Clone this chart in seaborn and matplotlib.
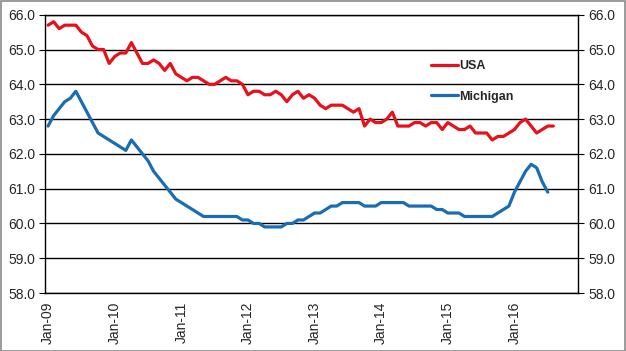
import numpy as np
import pandas as pd
import matplotlib
matplotlib.use('Agg')
import matplotlib.pyplot as plt
import seaborn as sns
from matplotlib.patches import Rectangle

# monthly values, Jan-09 onwards
usa = [65.7, 65.8, 65.6, 65.7, 65.7, 65.7, 65.5, 65.4, 65.1, 65.0, 65.0, 64.6,
       64.8, 64.9, 64.9, 65.2, 64.9, 64.6, 64.6, 64.7, 64.6, 64.4, 64.6, 64.3,
       64.2, 64.1, 64.2, 64.2, 64.1, 64.0, 64.0, 64.1, 64.2, 64.1, 64.1, 64.0,
       63.7, 63.8, 63.8, 63.7, 63.7, 63.8, 63.7, 63.5, 63.7, 63.8, 63.6, 63.7,
       63.6, 63.4, 63.3, 63.4, 63.4, 63.4, 63.3, 63.2, 63.3, 62.8, 63.0, 62.9,
       62.9, 63.0, 63.2, 62.8, 62.8, 62.8, 62.9, 62.9, 62.8, 62.9, 62.9, 62.7,
       62.9, 62.8, 62.7, 62.7, 62.8, 62.6, 62.6, 62.6, 62.4, 62.5, 62.5, 62.6,
       62.7, 62.9, 63.0, 62.8, 62.6, 62.7, 62.8, 62.8]
michigan = [62.8, 63.1, 63.3, 63.5, 63.6, 63.8, 63.5, 63.2, 62.9, 62.6, 62.5, 62.4,
            62.3, 62.2, 62.1, 62.4, 62.2, 62.0, 61.8, 61.5, 61.3, 61.1, 60.9, 60.7,
            60.6, 60.5, 60.4, 60.3, 60.2, 60.2, 60.2, 60.2, 60.2, 60.2, 60.2, 60.1,
            60.1, 60.0, 60.0, 59.9, 59.9, 59.9, 59.9, 60.0, 60.0, 60.1, 60.1, 60.2,
            60.3, 60.3, 60.4, 60.5, 60.5, 60.6, 60.6, 60.6, 60.6, 60.5, 60.5, 60.5,
            60.6, 60.6, 60.6, 60.6, 60.6, 60.5, 60.5, 60.5, 60.5, 60.5, 60.4, 60.4,
            60.3, 60.3, 60.3, 60.2, 60.2, 60.2, 60.2, 60.2, 60.2, 60.3, 60.4, 60.5,
            60.9, 61.2, 61.5, 61.7, 61.6, 61.2, 60.9]
years = ['09', '10', '11', '12', '13', '14', '15', '16']
tick_labels = ['Jan-' + y for y in years]
n_months = 96

df = pd.concat([
    pd.DataFrame({'month': range(len(usa)), 'rate': usa, 'series': 'USA'}),
    pd.DataFrame({'month': range(len(michigan)), 'rate': michigan, 'series': 'Michigan'}),
])

sns.set_style('white')
plt.rcParams['font.family'] = ['Liberation Sans', 'DejaVu Sans']

fig = plt.figure(figsize=(6.26, 3.51), dpi=100)
ax = fig.add_axes([0.0724, 0.1652, 0.8514, 0.7928])

sns.lineplot(data=df, x='month', y='rate', hue='series', ax=ax,
             palette={'USA': '#E8101A', 'Michigan': '#1A6DB2'}, lw=2.3)

ax.set_xlim(-0.5, n_months - 0.5)
ax.set_ylim(58, 66)
yt = np.arange(58, 67, 1)
ax.set_yticks(yt)
ax.set_yticklabels([f'{v:.1f}' for v in yt], fontsize=10)
ax.yaxis.grid(True, color='black', lw=1)
ax.xaxis.grid(False)

ax.set_xticks(np.arange(0, 85, 12))
ax.set_xticklabels(tick_labels, rotation=90, fontsize=10)
ax.set_xticks(np.arange(-0.5, n_months, 1), minor=True)
ax.tick_params(axis='x', which='major', length=0, pad=6)
ax.tick_params(axis='x', which='minor', length=4, width=0.8, color='black', direction='out')
ax.tick_params(axis='y', length=4, width=0.8, color='black', direction='out', pad=3)
ax.set_xlabel('')
ax.set_ylabel('')
for s in ax.spines.values():
    s.set_color('black')
    s.set_linewidth(1)

ax2 = ax.twinx()
ax2.set_ylim(58, 66)
ax2.set_yticks(yt)
ax2.set_yticklabels([f'{v:.1f}' for v in yt], fontsize=10)
ax2.tick_params(axis='y', length=4, width=0.8, color='black', direction='out', pad=3)
for s in ax2.spines.values():
    s.set_visible(False)

leg = ax.legend(loc='upper left', bbox_to_anchor=(0.703, 0.878), frameon=False,
                handlelength=2.1, handletextpad=0.15, labelspacing=1.5,
                prop={'size': 9, 'weight': 'bold'})
for line in leg.get_lines():
    line.set_linewidth(2.3)

fig.patches.append(Rectangle((0.001, 0.001), 0.997, 0.996, transform=fig.transFigure,
                             fill=False, edgecolor='#8a8a8a', lw=1.2))

plt.savefig('out.png', dpi=100)
